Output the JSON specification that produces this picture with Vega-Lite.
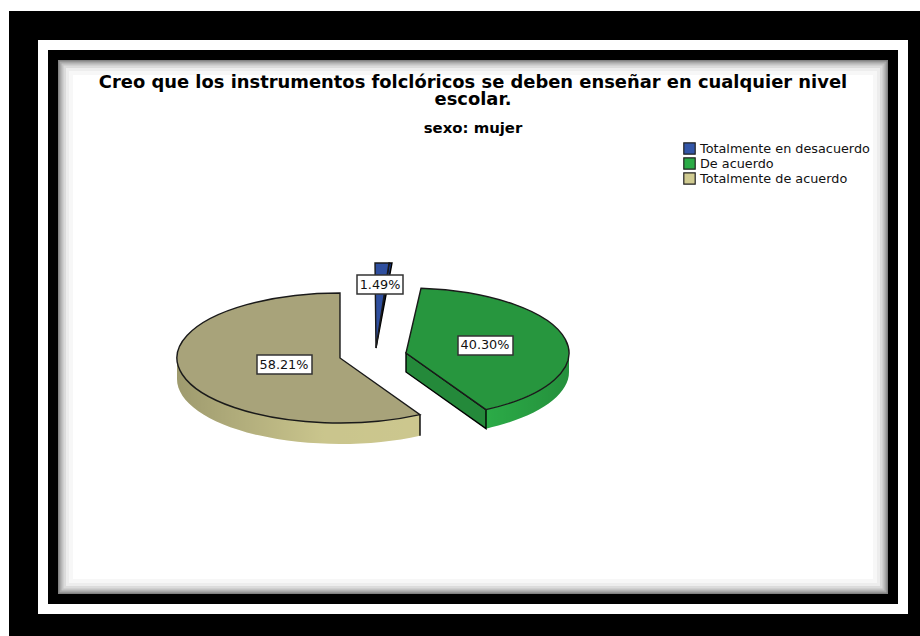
{"$schema":"https://vega.github.io/schema/vega-lite/v6.json","autosize":"none","background":"white","padding":{"left":53,"top":55,"right":27,"bottom":37},"width":840,"height":544,"config":{"view":{"stroke":null},"font":"DejaVu Sans"},
"title":{"text":["Creo que los instrumentos folclóricos se deben enseñar en cualquier nivel","escolar."],"subtitle":"sexo: mujer","anchor":"middle","frame":"group","offset":-125,"font":"DejaVu Sans","fontSize":17.9,"fontWeight":"bold","lineHeight":17.5,"color":"black","limit":830,"subtitleFont":"DejaVu Sans","subtitleFontSize":14.9,"subtitleFontWeight":"bold","subtitleColor":"black","subtitlePadding":12},
"data":{"values":[{"categoria":"Totalmente en desacuerdo","porcentaje":1.49,"etiqueta":"1.49%"},{"categoria":"De acuerdo","porcentaje":40.30,"etiqueta":"40.30%"},{"categoria":"Totalmente de acuerdo","porcentaje":58.21,"etiqueta":"58.21%"}]},
"resolve":{"scale":{"shape":"independent","color":"independent","x":"independent","y":"independent"}},
"layer":[
{"data":{"values":[{}]},"mark":{"type":"rect","stroke":"black","strokeWidth":88,"fill":"black"},"encoding":{}},
{"data":{"values":[{}]},"mark":{"type":"rect","stroke":"white","strokeWidth":30,"fill":"white"},"encoding":{}},
{"data":{"values":[{}]},"mark":{"type":"rect","clip":true,"fill":null,"stroke":"black","strokeOpacity":0.22,"strokeWidth":13},"encoding":{}},
{"data":{"values":[{}]},"mark":{"type":"rect","clip":true,"fill":null,"stroke":"black","strokeOpacity":0.14,"strokeWidth":17},"encoding":{}},
{"data":{"values":[{}]},"mark":{"type":"rect","clip":true,"fill":null,"stroke":"black","strokeOpacity":0.1,"strokeWidth":21},"encoding":{}},
{"data":{"values":[{}]},"mark":{"type":"rect","clip":true,"fill":null,"stroke":"black","strokeOpacity":0.07,"strokeWidth":26},"encoding":{}},
{"data":{"values":[{}]},"mark":{"type":"rect","clip":true,"fill":null,"stroke":"black","strokeOpacity":0.04,"strokeWidth":32},"encoding":{}},
{"data":{"values":[{}]},"mark":{"type":"rect","clip":true,"fill":null,"stroke":"black","strokeOpacity":0.03,"strokeWidth":40},"encoding":{}},
{"data":{"values":[{}]},"mark":{"type":"rect","fill":null,"stroke":"black","strokeWidth":10},"encoding":{}},
{"mark":{"type":"point","filled":true,"size":0,"opacity":1},"encoding":{
"color":{"field":"categoria","type":"nominal","scale":{"domain":["Totalmente en desacuerdo","De acuerdo","Totalmente de acuerdo"],"range":["#3356a8","#2bab47","#d0cb91"]},"legend":{"title":null,"orient":"none","legendX":630,"legendY":87,"symbolType":"square","symbolSize":130,"symbolStrokeColor":"#222222","symbolStrokeWidth":1.2,"symbolOpacity":1,"labelFont":"DejaVu Sans","labelFontSize":12.8,"labelColor":"#111111","rowPadding":-2,"labelOffset":4,"labelLimit":220,"padding":0}}}},
{"mark":{"type":"point","filled":true,"size":4,"opacity":1},"encoding":{
"shape":{"field":"categoria","type":"nominal","legend":null,"scale":{"domain":["Totalmente en desacuerdo","De acuerdo","Totalmente de acuerdo"],"range":["M-97,21 L-98,-64 L-81,-64 Z","M96,26 L96,45 A163,65 0 0 1 13,101.63 L13,82.63 A163,65 0 0 0 96,26 Z","M-296,31 L-296,52 A163,65 0 0 0 -53,108.63 L-53,87.63 A163,65 0 0 1 -296,31 Z"]}},
"color":{"field":"categoria","type":"nominal","legend":null,"scale":{"domain":["Totalmente en desacuerdo","De acuerdo","Totalmente de acuerdo"],"range":["#3356a8","#2bab47","#d0cb91"]}}}},
{"data":{"values":[{"categoria":"De acuerdo"}]},"mark":{"type":"point","filled":true,"size":4,"opacity":1,"fill":{"gradient":"linear","x1":0,"y1":0,"x2":1,"y2":0,"stops":[{"offset":0,"color":"rgba(0,0,0,0)"},{"offset":1,"color":"rgba(0,0,0,0.16)"}]},"shape":"M96,26 L96,45 A163,65 0 0 1 13,101.63 L13,82.63 A163,65 0 0 0 96,26 Z"},"encoding":{}},
{"data":{"values":[{"categoria":"Totalmente de acuerdo"}]},"mark":{"type":"point","filled":true,"size":4,"opacity":1,"fill":{"gradient":"linear","x1":0,"y1":0,"x2":1,"y2":0,"stops":[{"offset":0,"color":"rgba(0,0,0,0.24)"},{"offset":0.6,"color":"rgba(0,0,0,0.03)"},{"offset":1,"color":"rgba(0,0,0,0.02)"}]},"shape":"M-296,31 L-296,52 A163,65 0 0 0 -53,108.63 L-53,87.63 A163,65 0 0 1 -296,31 Z"},"encoding":{}},
{"mark":{"type":"point","filled":true,"size":4,"opacity":1,"stroke":"black","strokeWidth":1.4},"encoding":{
"shape":{"field":"categoria","type":"nominal","legend":null,"scale":{"domain":["Totalmente en desacuerdo","De acuerdo","Totalmente de acuerdo"],"range":["M-97,21 L-84,-64 L-81,-64 Z","M-67,26 L13,82.63 L13,101.63 L-67,45 Z","M-53,87.63 L-53,108.63"]}},
"color":{"field":"categoria","type":"nominal","legend":null,"scale":{"domain":["Totalmente en desacuerdo","De acuerdo","Totalmente de acuerdo"],"range":["#1d3675","#24893a","#222222"]}}}},
{"mark":{"type":"point","filled":true,"size":4,"opacity":1,"stroke":"#1a1a1a","strokeWidth":1.4},"encoding":{
"shape":{"field":"categoria","type":"nominal","legend":null,"scale":{"domain":["Totalmente en desacuerdo","De acuerdo","Totalmente de acuerdo"],"range":["M-97,21 L-98,-64 L-84,-64 Z","M-67,26 L-52,-38.71 A163,65 0 0 1 13,82.63 Z","M-133,31 L-133,-34 A163,65 0 1 0 -53,87.63 Z"]}},
"color":{"field":"categoria","type":"nominal","legend":null,"scale":{"domain":["Totalmente en desacuerdo","De acuerdo","Totalmente de acuerdo"],"range":["#2f4f9f","#27963e","#a8a37a"]}}}},
{"mark":{"type":"point","filled":true,"size":4,"opacity":1,"stroke":"#333333","strokeWidth":1.5,"fill":"white"},"encoding":{
"shape":{"field":"categoria","type":"nominal","legend":null,"scale":{"domain":["Totalmente en desacuerdo","De acuerdo","Totalmente de acuerdo"],"range":["M-116,-52 L-70,-52 L-70,-33 L-116,-33 Z","M-15,9 L40,9 L40,28 L-15,28 Z","M-216,28 L-161,28 L-161,47 L-216,47 Z"]}}}},
{"mark":{"type":"text","font":"DejaVu Sans","fontSize":12.8,"color":"#111111","align":"center","baseline":"middle"},"encoding":{
"text":{"field":"etiqueta"},
"x":{"field":"porcentaje","type":"quantitative","axis":null,"scale":{"domain":[1.49,40.30,58.21],"range":[327,432,231],"nice":false,"zero":false}},
"y":{"field":"porcentaje","type":"quantitative","axis":null,"scale":{"domain":[1.49,40.30,58.21],"range":[230,290,310],"nice":false,"zero":false}}}}
]}
